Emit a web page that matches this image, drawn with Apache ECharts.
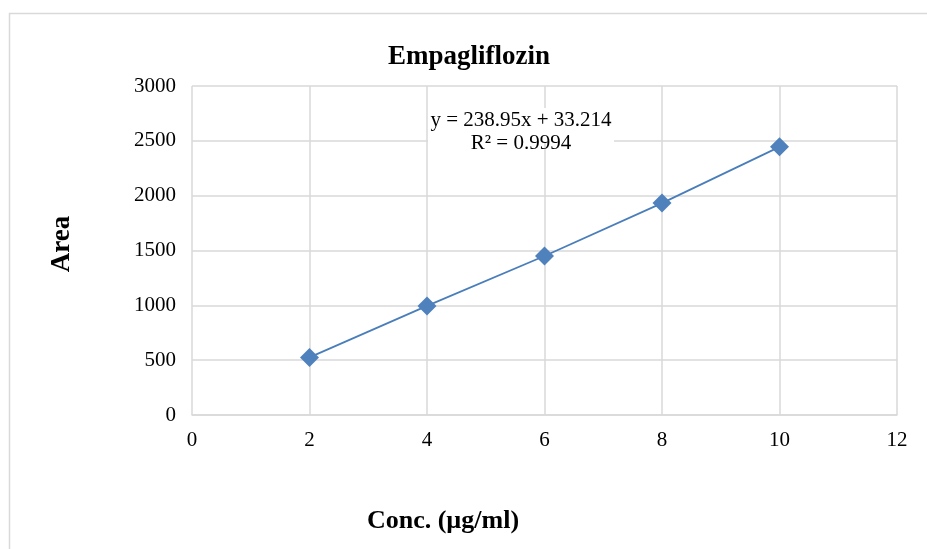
<!DOCTYPE html>
<html>
<head>
<meta charset="utf-8">
<script src="https://cdn.jsdelivr.net/npm/echarts@6/dist/echarts.min.js"></script>
<style>html,body{margin:0;padding:0;background:#fff;}#c{width:927px;height:549px;}</style>
</head>
<body>
<div id="c"></div>
<script>
const concentrations = [2, 4, 6, 8, 10];
const areas = [525, 995, 1450, 1932, 2445];
const xTicks = [0, 2, 4, 6, 8, 10, 12];
const yTicks = [0, 500, 1000, 1500, 2000, 2500, 3000];
const titleText = 'Empagliflozin';
const equationLines = ['y = 238.95x + 33.214', 'R² = 0.9994'];
const xName = 'Conc. (µg/ml)';
const yName = 'Area';

const font = '"Liberation Serif", "Times New Roman", serif';
const chart = echarts.init(document.getElementById('c'), null, {renderer: 'canvas'});
chart.setOption({
  animation: false,
  backgroundColor: '#fff',
  graphic: [
    {type: 'rect', left: 7, top: 11, shape: {width: 940, height: 560},
     style: {fill: 'none', stroke: '#d9d9d9', lineWidth: 1.5}, silent: true, z: -1},
    {type: 'text', x: 469, y: 57, style: {text: titleText, font: 'bold 27px ' + font, fill: '#000', textAlign: 'center', textVerticalAlign: 'middle'}},
    {type: 'rect', shape: {x: 428, y: 108, width: 186, height: 35}, style: {fill: '#fff'}, z: 10, silent: true},
    {type: 'text', x: 521, y: 120, z: 11, style: {text: equationLines[0], font: '21px ' + font, fill: '#000', textAlign: 'center', textVerticalAlign: 'middle'}},
    {type: 'text', x: 521, y: 143, z: 11, style: {text: equationLines[1], font: '21px ' + font, fill: '#000', textAlign: 'center', textVerticalAlign: 'middle'}},
    {type: 'text', x: 443, y: 521, style: {text: xName, font: 'bold 26px ' + font, fill: '#000', textAlign: 'center', textVerticalAlign: 'middle'}},
    {type: 'text', x: 62, y: 244, rotation: Math.PI / 2, style: {text: yName, font: 'bold 27px ' + font, fill: '#000', textAlign: 'center', textVerticalAlign: 'middle'}}
  ],
  grid: {left: 192, right: 30, top: 86, bottom: 134, containLabel: false},
  xAxis: {
    type: 'value', min: xTicks[0], max: xTicks[xTicks.length - 1], interval: 2,
    axisLine: {show: true, lineStyle: {color: '#d9d9d9', width: 1.5}},
    axisTick: {show: false},
    splitLine: {show: true, lineStyle: {color: '#d9d9d9', width: 1.5}},
    axisLabel: {fontFamily: font, fontSize: 21, color: '#000', margin: 15, formatter: v => String(v)}
  },
  yAxis: {
    type: 'value', min: yTicks[0], max: yTicks[yTicks.length - 1], interval: 500,
    axisLine: {show: false},
    axisTick: {show: false},
    splitLine: {show: true, lineStyle: {color: '#d9d9d9', width: 1.5}},
    axisLabel: {fontFamily: font, fontSize: 21, color: '#000', margin: 16, formatter: v => String(v)}
  },
  series: [{
    type: 'line',
    data: concentrations.map((x, i) => [x, areas[i]]),
    symbol: 'diamond', symbolSize: 19,
    itemStyle: {color: '#4f81bd'},
    lineStyle: {color: '#4a7ebb', width: 1.75}
  }]
});
</script>
</body>
</html>
